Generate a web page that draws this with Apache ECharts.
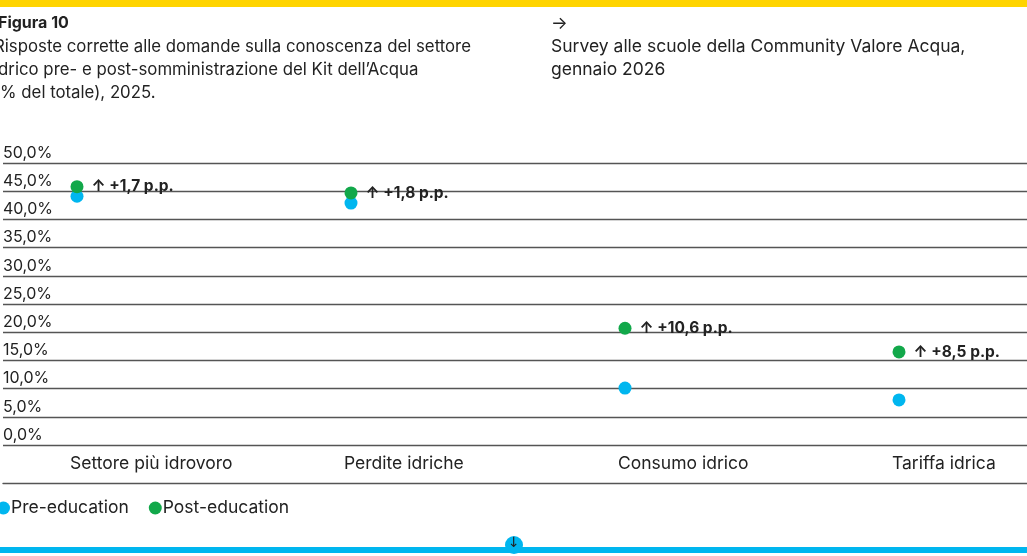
<!DOCTYPE html>
<html>
<head>
<meta charset="utf-8">
<script src="https://cdn.jsdelivr.net/npm/echarts@6/dist/echarts.min.js"></script>
<style>
  html, body { margin: 0; padding: 0; background: #ffffff; }
  #chart { width: 1027px; height: 556px; }
</style>
</head>
<body>
<div id="chart"></div>
<script>
// ---- data ----
const categories = ['Settore più idrovoro', 'Perdite idriche', 'Consumo idrico', 'Tariffa idrica'];
const preEducation = [44.1, 42.9, 10.1, 8.0];
const postEducation = [45.8, 44.7, 20.7, 16.5];
const deltas = [1.7, 1.8, 10.6, 8.5];
const seriesNames = ['Pre-education', 'Post-education'];
const yMin = 0, yMax = 50, yStep = 5;

const FONT = 'Inter, Liberation Sans, Arial, sans-serif';
const TXT = '#222222';
const BLUE = '#00B6EF';
const GREEN = '#12A84A';
const GRID_LINE = '#555555';

const fmtPct = v => v.toFixed(1).replace('.', ',') + '%';
const fmtDelta = d => '↑ +' + d.toFixed(1).replace('.', ',') + ' p.p.';

const chart = echarts.init(document.getElementById('chart'), null, { renderer: 'canvas' });

const gridTop = 163, gridBottom = 111;

chart.setOption({
  backgroundColor: '#ffffff',
  animation: false,
  textStyle: { fontFamily: FONT },
  title: [
    { text: 'Figura 10', left: -2, top: 15, padding: 0,
      textStyle: { fontFamily: FONT, fontSize: 16, fontWeight: 'bold', color: TXT } },
    { text: 'Risposte corrette alle domande sulla conoscenza del settore\nidrico pre- e post-somministrazione del Kit dell’Acqua\n(% del totale), 2025.',
      left: -6, top: 35, padding: 0,
      textStyle: { fontFamily: FONT, fontSize: 16.8, fontWeight: 'normal', color: TXT, lineHeight: 23 } },
    { text: '→\nSurvey alle scuole della Community Valore Acqua,\ngennaio 2026',
      left: 551, top: 12, padding: 0,
      textStyle: { fontFamily: FONT, fontSize: 17.5, fontWeight: 'normal', color: TXT, lineHeight: 23 } }
  ],
  legend: {
    data: seriesNames,
    left: -3, top: 499, padding: 0,
    icon: 'circle', itemWidth: 13, itemHeight: 13, itemGap: 20,
    itemStyle: { opacity: 1 },
    textStyle: { fontFamily: FONT, fontSize: 17.5, color: TXT, padding: [0, 0, 0, -4] }
  },
  grid: [
    { left: -10, right: -10, top: gridTop, bottom: gridBottom },
    { left: 77, right: 128, top: gridTop, bottom: gridBottom },
    { left: 70, right: 135, top: gridTop, bottom: gridBottom }
  ],
  xAxis: [
    { gridIndex: 0, type: 'category', data: categories, offset: 38,
      axisLine: { show: true, onZero: false, lineStyle: { color: GRID_LINE, width: 1.4 } },
      axisTick: { show: false }, axisLabel: { show: false }, splitLine: { show: false } },
    { gridIndex: 1, type: 'category', data: categories, boundaryGap: false,
      axisLine: { show: false, onZero: false }, axisTick: { show: false }, axisLabel: { show: false } },
    { gridIndex: 2, type: 'category', data: categories, boundaryGap: false,
      axisLine: { show: false, onZero: false }, axisTick: { show: false },
      axisLabel: { show: true, align: 'left', margin: 10, fontFamily: FONT, fontSize: 17.5, color: TXT } }
  ],
  yAxis: [
    { gridIndex: 0, type: 'value', min: yMin, max: yMax, interval: yStep,
      axisLine: { show: false }, axisTick: { show: false },
      axisLabel: { inside: true, margin: 0, align: 'left', verticalAlign: 'bottom', padding: [0, 0, 2, 0],
        fontFamily: FONT, fontSize: 16, color: TXT, formatter: fmtPct },
      splitLine: { show: true, lineStyle: { color: GRID_LINE, width: 1.4 } } },
    { gridIndex: 1, type: 'value', min: yMin, max: yMax, interval: yStep,
      axisLine: { show: false }, axisTick: { show: false }, axisLabel: { show: false }, splitLine: { show: false } },
    { gridIndex: 2, type: 'value', min: yMin, max: yMax, interval: yStep,
      axisLine: { show: false }, axisTick: { show: false }, axisLabel: { show: false }, splitLine: { show: false } }
  ],
  series: [
    { name: seriesNames[0], type: 'scatter', xAxisIndex: 1, yAxisIndex: 1,
      symbol: 'circle', symbolSize: 13, itemStyle: { color: BLUE, opacity: 1 },
      data: preEducation, z: 5 },
    { name: seriesNames[1], type: 'scatter', xAxisIndex: 1, yAxisIndex: 1,
      symbol: 'circle', symbolSize: 13, itemStyle: { color: GREEN, opacity: 1 },
      data: postEducation, z: 6,
      label: { show: true, position: 'right', distance: 8,
        formatter: p => fmtDelta(deltas[p.dataIndex]),
        fontFamily: FONT, fontSize: 15.5, fontWeight: 'bold', color: TXT } }
  ],
  graphic: [
    { type: 'rect', left: 0, top: 0, shape: { width: 1027, height: 7 }, style: { fill: '#FFD400' } },
    { type: 'rect', left: 0, top: 547, shape: { width: 1027, height: 6 }, style: { fill: BLUE } },
    { type: 'circle', shape: { cx: 514, cy: 545, r: 9 }, style: { fill: BLUE } },
    { type: 'text', left: 508, top: 536, style: { text: '↓', fontSize: 14, fontFamily: 'DejaVu Sans', fill: '#222' } }
  ]
});
</script>
</body>
</html>
